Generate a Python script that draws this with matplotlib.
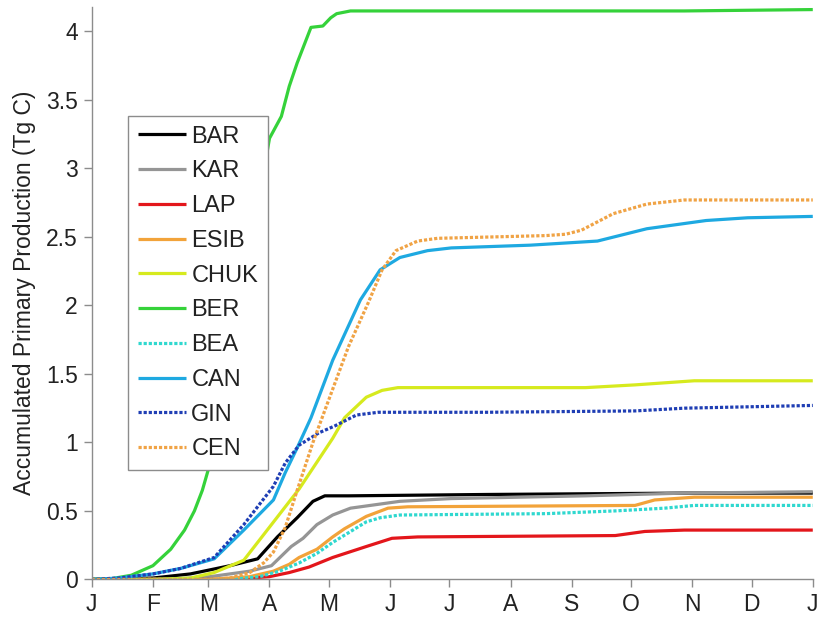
import matplotlib
matplotlib.use("Agg")
import matplotlib.pyplot as plt

plt.rcParams['font.family'] = ['Liberation Sans', 'DejaVu Sans']

# Month labels and the day of year each month starts on
month_labels = ["J", "F", "M", "A", "M", "J", "J", "A", "S", "O", "N", "D", "J"]
month_starts = [0, 31, 59, 90, 120, 151, 181, 212, 243, 273, 304, 334, 365]

# Accumulated primary production (Tg C) per region, sampled at day of year
bar_days = [0, 31, 50, 60, 70, 84, 94, 104, 112, 118, 130, 200, 300, 365]
bar_vals = [0, 0.01, 0.04, 0.07, 0.10, 0.15, 0.31, 0.45, 0.57, 0.61, 0.61, 0.62, 0.63, 0.63]

kar_days = [0, 40, 60, 80, 91, 101, 107, 114, 122, 131, 156, 182, 250, 300, 365]
kar_vals = [0, 0.0, 0.02, 0.06, 0.10, 0.24, 0.30, 0.40, 0.47, 0.52, 0.57, 0.59, 0.61, 0.63, 0.64]

lap_days = [0, 70, 90, 100, 110, 122, 139, 152, 165, 265, 280, 300, 365]
lap_vals = [0, 0.0, 0.02, 0.05, 0.09, 0.16, 0.24, 0.30, 0.31, 0.32, 0.35, 0.36, 0.36]

esib_days = [0, 60, 80, 92, 100, 105, 114, 122, 128, 139, 150, 160, 275, 285, 305, 365]
esib_vals = [0, 0.0, 0.02, 0.06, 0.11, 0.16, 0.22, 0.31, 0.37, 0.46, 0.52, 0.53, 0.54, 0.58, 0.60, 0.60]

chuk_days = [0, 31, 50, 62, 77, 91, 105, 122, 128, 139, 147, 155, 250, 275, 305, 365]
chuk_vals = [0, 0.0, 0.01, 0.05, 0.14, 0.40, 0.66, 1.03, 1.18, 1.33, 1.38, 1.40, 1.40, 1.42, 1.45, 1.45]

ber_days = [0, 10, 20, 31, 40, 47, 52, 56, 60, 64, 87, 90, 96, 100, 104, 111, 117, 121, 124, 131, 200, 300, 365]
ber_vals = [0, 0.005, 0.03, 0.10, 0.22, 0.36, 0.50, 0.65, 0.85, 1.15, 2.97, 3.22, 3.38, 3.60, 3.77, 4.03, 4.04, 4.10,
            4.13, 4.15, 4.15, 4.15, 4.16]

bea_days = [0, 70, 85, 95, 105, 114, 122, 139, 146, 156, 230, 265, 290, 305, 365]
bea_vals = [0, 0.0, 0.02, 0.06, 0.12, 0.19, 0.27, 0.42, 0.45, 0.47, 0.48, 0.50, 0.52, 0.54, 0.54]

can_days = [0, 14, 31, 45, 62, 77, 92, 98, 104, 111, 122, 136, 146, 156, 170, 182, 222, 256, 281, 311, 332, 365]
can_vals = [0, 0.01, 0.04, 0.08, 0.15, 0.36, 0.58, 0.78, 0.96, 1.18, 1.60, 2.04, 2.26, 2.35, 2.40, 2.42, 2.44, 2.47,
            2.56, 2.62, 2.64, 2.65]

gin_days = [0, 14, 31, 45, 62, 77, 92, 98, 105, 115, 123, 134, 145, 200, 275, 300, 365]
gin_vals = [0, 0.01, 0.04, 0.08, 0.16, 0.40, 0.68, 0.85, 0.98, 1.07, 1.12, 1.20, 1.22, 1.22, 1.23, 1.25, 1.27]

cen_days = [0, 60, 70, 80, 87, 92, 98, 104, 112, 121, 130, 140, 147, 154, 165, 175, 230, 240, 248, 264, 281, 300, 365]
cen_vals = [0, 0.0, 0.01, 0.05, 0.12, 0.20, 0.38, 0.65, 1.00, 1.35, 1.70, 2.02, 2.26, 2.40, 2.47, 2.49, 2.51, 2.52,
            2.55, 2.67, 2.74, 2.77, 2.77]

dot = (0, (1.0, 0.6))
series = [
    ("BAR", bar_days, bar_vals, "#000000", "-"),
    ("KAR", kar_days, kar_vals, "#959595", "-"),
    ("LAP", lap_days, lap_vals, "#e3161b", "-"),
    ("ESIB", esib_days, esib_vals, "#f2a33a", "-"),
    ("CHUK", chuk_days, chuk_vals, "#d6ea1e", "-"),
    ("BER", ber_days, ber_vals, "#35d23a", "-"),
    ("BEA", bea_days, bea_vals, "#2fd8cf", dot),
    ("CAN", can_days, can_vals, "#1ea9e1", "-"),
    ("GIN", gin_days, gin_vals, "#1f3eb4", dot),
    ("CEN", cen_days, cen_vals, "#f0a345", dot),
]

fig = plt.figure(figsize=(8.26, 6.21), dpi=100)
ax = fig.add_axes([0.111, 0.067, 0.873, 0.922])

for name, d, v, c, ls in series:
    ax.plot(d, v, color=c, linestyle=ls, linewidth=2.3, label=name, solid_capstyle="butt")

ax.set_xlim(0, 365)
ax.set_ylim(0, 4.18)
ax.set_xticks(month_starts)
ax.set_xticklabels(month_labels)
ax.set_yticks([0, 0.5, 1, 1.5, 2, 2.5, 3, 3.5, 4])
ax.set_yticklabels(["0", "0.5", "1", "1.5", "2", "2.5", "3", "3.5", "4"])

for side in ("top", "right"):
    ax.spines[side].set_visible(False)
for side in ("left", "bottom"):
    ax.spines[side].set_color("#8c8c8c")
    ax.spines[side].set_linewidth(1.0)

ax.tick_params(axis="both", direction="out", length=6, width=1.0, color="#8c8c8c",
               labelsize=16.5, labelcolor="#222222", pad=4)
ax.tick_params(axis="x", pad=4)

ax.set_ylabel("Accumulated Primary Production (Tg C)", fontsize=16.5, color="#222222", labelpad=7)

leg = ax.legend(loc="upper left", bbox_to_anchor=(0.05, 0.81), borderaxespad=0,
                fontsize=17, frameon=True, fancybox=False, framealpha=1,
                edgecolor="#8c8c8c", handlelength=2.05, handletextpad=0.22,
                labelspacing=0.54, borderpad=0.42)
leg.get_frame().set_linewidth(1.0)
for t in leg.get_texts():
    t.set_color("#222222")

fig.savefig("out.png", dpi=100)
